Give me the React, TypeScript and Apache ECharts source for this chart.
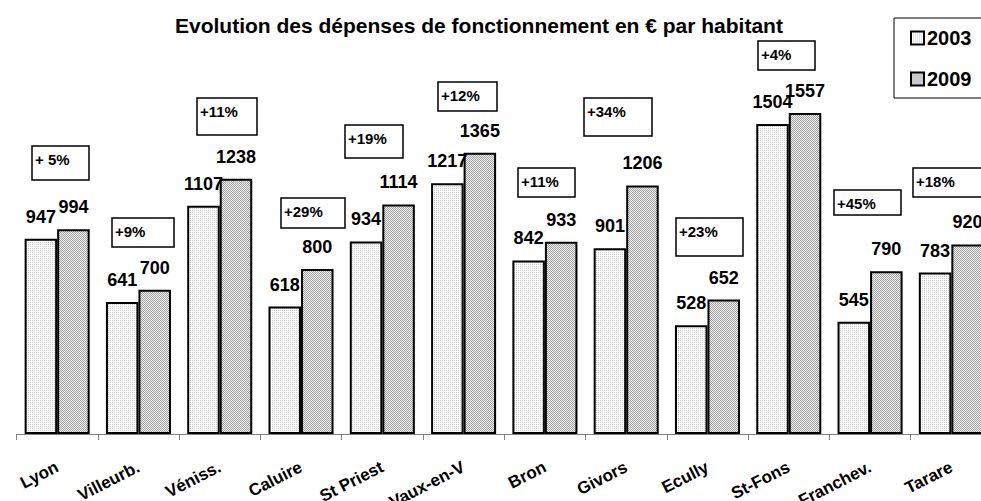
import React, { useEffect, useRef } from "react";
import * as echarts from "echarts";

const categories = ["Lyon", "Villeurb.", "Véniss.", "Caluire", "St Priest", "Vaux-en-V", "Bron", "Givors", "Ecully", "St-Fons", "Franchev.", "Tarare"];
const values2003 = [947, 641, 1107, 618, 934, 1217, 842, 901, 528, 1504, 545, 783];
const values2009 = [994, 700, 1238, 800, 1114, 1365, 933, 1206, 652, 1557, 790, 920];
const changeLabels = ["+ 5%", "+9%", "+11%", "+29%", "+19%", "+12%", "+11%", "+34%", "+23%", "+4%", "+45%", "+18%"];
const seriesNames = ["2003", "2009"];
const titleText = "Evolution des dépenses de fonctionnement en € par habitant";

// annotation box layout: [left, top, width, height]
const boxLayout = [
  [32, 146, 57, 34],
  [112, 218, 62, 29],
  [197, 98, 60, 37],
  [281, 198, 64, 30],
  [345, 125, 58, 33],
  [438, 82, 59, 29],
  [518, 168, 57, 29],
  [584, 98, 68, 38],
  [676, 218, 67, 38],
  [758, 41, 57, 29],
  [834, 190, 67, 25],
  [913, 168, 75, 29],
];

function makePattern(bg: string, dot: string, size: number, dots: number[][]) {
  const c = document.createElement("canvas");
  c.width = size;
  c.height = size;
  const ctx = c.getContext("2d")!;
  ctx.fillStyle = bg;
  ctx.fillRect(0, 0, size, size);
  ctx.fillStyle = dot;
  dots.forEach(([x, y]) => ctx.fillRect(x, y, 1, 1));
  return { image: c, repeat: "repeat" } as any;
}

export default function App() {
  const ref = useRef<HTMLDivElement>(null);
  useEffect(() => {
    if (!ref.current) return;
    const chart = echarts.init(ref.current, undefined, { renderer: "svg" });
    const p2003 = makePattern("#ffffff", "#c8c8c8", 4, [[0, 0], [2, 0], [0, 2], [2, 2]]);
    const p2009 = makePattern("#f2f2f2", "#a0a0a0", 2, [[0, 0], [1, 1]]);
    const font = "Arial, 'Liberation Sans', sans-serif";

    const boxes: any[] = [];
    changeLabels.forEach((t, i) => {
      const [x, y, w, h] = boxLayout[i];
      boxes.push({
        type: "rect",
        shape: { x, y, width: w, height: h },
        style: { fill: "#fff", stroke: "#000", lineWidth: 1.5 },
        z: 10,
      });
      boxes.push({
        type: "text",
        x: x + 3,
        y: y + 6,
        style: { text: t, fill: "#000", font: `bold 15px ${font}`, textVerticalAlign: "top" },
        z: 11,
      });
    });

    const labelCfg = {
      show: true,
      position: "top",
      distance: 13,
      color: "#000",
      fontWeight: "bold",
      fontSize: 18,
      fontFamily: font,
    };

    chart.setOption({
      animation: false,
      backgroundColor: "#fff",
      title: {
        text: titleText,
        left: 175,
        top: 15,
        padding: 0,
        textStyle: { fontSize: 21, fontWeight: "bold", color: "#000", fontFamily: font },
      },
      legend: {
        data: seriesNames,
        orient: "vertical",
        left: 894,
        top: 18,
        padding: [10, 40, 9, 16],
        itemGap: 21,
        itemWidth: 13,
        itemHeight: 13,
        icon: "rect",
        borderColor: "#000",
        borderWidth: 1,
        backgroundColor: "#fff",
        textStyle: { fontSize: 20, fontWeight: "bold", color: "#000", fontFamily: font, padding: [0, 0, 0, -2] },
      },
      grid: { left: 16.5, right: -11, top: 63, bottom: 67, outerBoundsMode: "none", containLabel: false },
      xAxis: {
        type: "category",
        data: categories,
        axisLine: { lineStyle: { color: "#808080", width: 1 } },
        axisTick: { show: true, length: 6, lineStyle: { color: "#808080" } },
        axisLabel: {
          rotate: 27,
          margin: 32,
          interval: 0,
          color: "#000",
          fontWeight: "bold",
          fontSize: 17,
          fontFamily: font,
        },
      },
      yAxis: { type: "value", min: 0, max: 1800, show: false, splitLine: { show: false } },
      series: [
        {
          name: seriesNames[0],
          type: "bar",
          data: values2003,
          barGap: "0%",
          barCategoryGap: "20%",
          itemStyle: { color: p2003, borderColor: "#000", borderWidth: 2 },
          label: labelCfg,
        },
        {
          name: seriesNames[1],
          type: "bar",
          data: values2009,
          itemStyle: { color: p2009, borderColor: "#000", borderWidth: 2 },
          label: labelCfg,
        },
      ],
      graphic: boxes,
    });
    return () => chart.dispose();
  }, []);
  return <div ref={ref} style={{ position: "fixed", left: 0, top: 0, width: 981, height: 501 }} />;
}
